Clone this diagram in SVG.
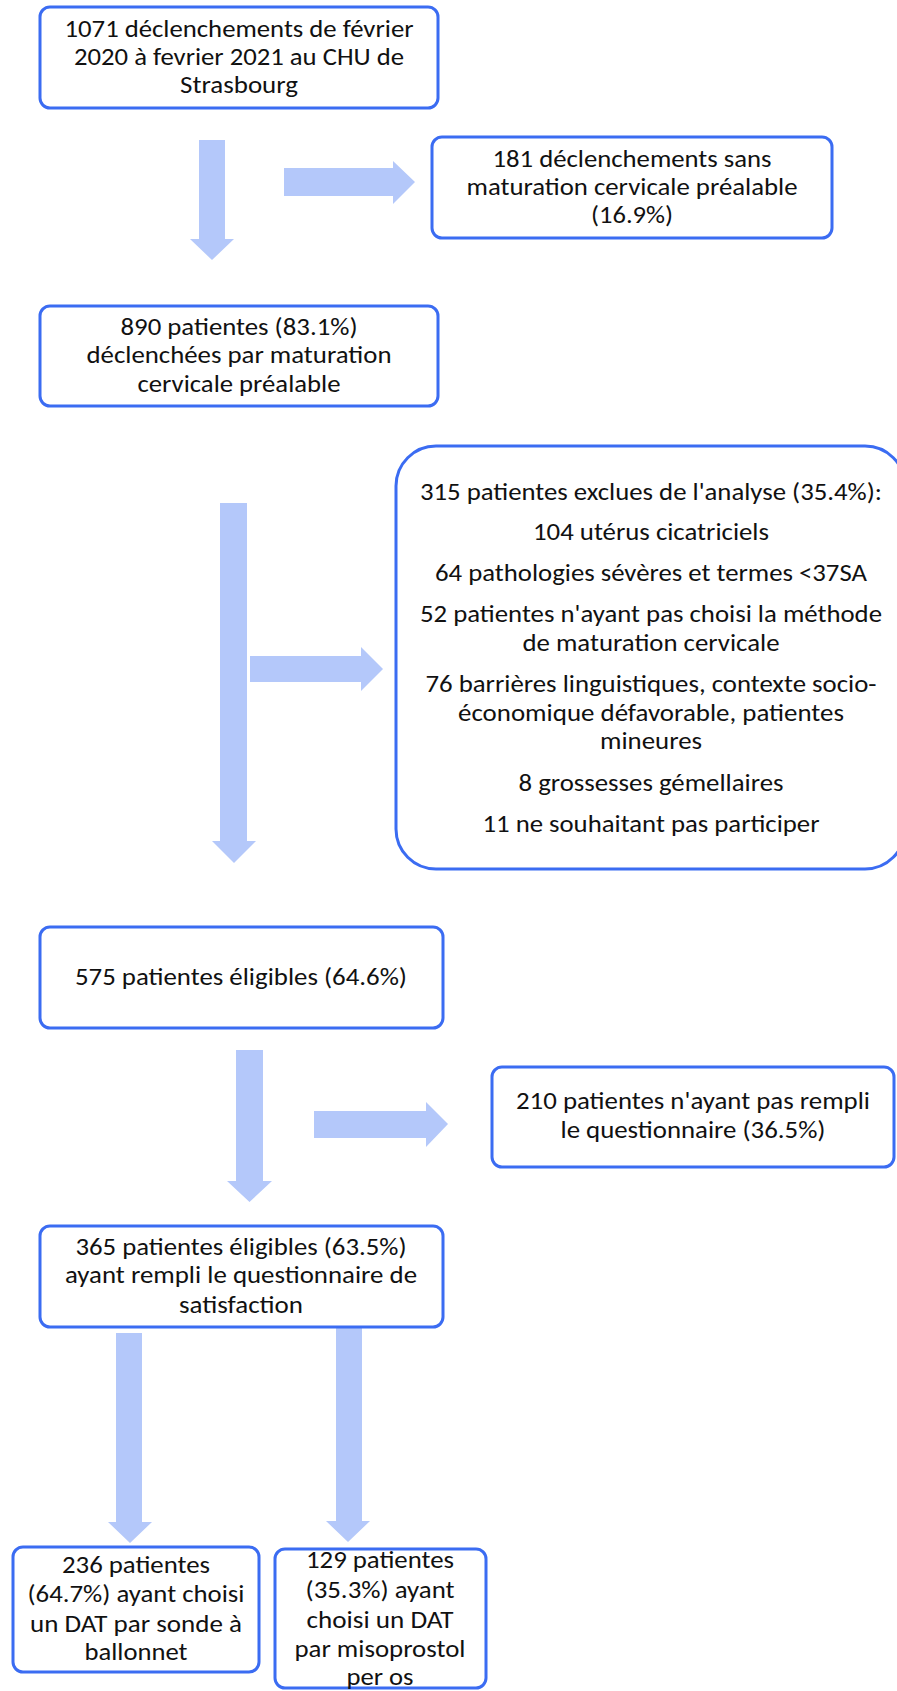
<svg xmlns="http://www.w3.org/2000/svg" width="897" height="1691" viewBox="0 0 897 1691">
<style>
.box{fill:#fff;stroke:#3B6CF2;stroke-width:3}
.arr{fill:#B4C8FA}
text{font-family:Carlito,Lato,"Open Sans",sans-serif;font-size:24px;fill:#111;text-anchor:middle}
</style>
<rect width="897" height="1691" fill="#fff"/>
<g id="connectors">
<polygon class="arr" points="199,140 225,140 225,239 234,239 212,260 190,239 199,239"/>
<polygon class="arr" points="284,168 393,168 393,161 415,182 393,204 393,196 284,196"/>
<polygon class="arr" points="220,503 247,503 247,841 256,841 234,863 212,841 220,841"/>
<polygon class="arr" points="250,656 361,656 361,647 383,669 361,691 361,682 250,682"/>
<polygon class="arr" points="236,1050 263,1050 263,1181 272,1181 249.5,1202 227,1181 236,1181"/>
<polygon class="arr" points="314,1111 426,1111 426,1102 448,1124 426,1147 426,1138 314,1138"/>
<polygon class="arr" points="116,1333 142,1333 142,1522 152,1522 130,1543 108,1522 116,1522"/>
<polygon class="arr" points="336,1327 362,1327 362,1521 370,1521 348,1542 326,1521 336,1521"/>
</g>
<g id="n1">
<rect class="box" x="40" y="7" width="398" height="101" rx="10"/>
<text x="239" y="37" textLength="349" lengthAdjust="spacingAndGlyphs">1071 déclenchements de février</text>
<text x="239" y="65" textLength="330" lengthAdjust="spacingAndGlyphs">2020 à fevrier 2021 au CHU de</text>
<text x="239" y="93" textLength="118" lengthAdjust="spacingAndGlyphs">Strasbourg</text>
</g>
<g id="n2">
<rect class="box" x="432" y="137" width="400" height="101" rx="10"/>
<text x="632" y="167" textLength="279" lengthAdjust="spacingAndGlyphs">181 déclenchements sans</text>
<text x="632" y="195" textLength="331" lengthAdjust="spacingAndGlyphs">maturation cervicale préalable</text>
<text x="632" y="223" textLength="82" lengthAdjust="spacingAndGlyphs">(16.9%)</text>
</g>
<g id="n3">
<rect class="box" x="40" y="306" width="398" height="100" rx="10"/>
<text x="239" y="335" textLength="237" lengthAdjust="spacingAndGlyphs">890 patientes (83.1%)</text>
<text x="239" y="363" textLength="305" lengthAdjust="spacingAndGlyphs">déclenchées par maturation</text>
<text x="239" y="392" textLength="203" lengthAdjust="spacingAndGlyphs">cervicale préalable</text>
</g>
<g id="n4">
<rect class="box" x="396" y="446" width="509" height="423" rx="40"/>
<text x="651" y="500" textLength="462" lengthAdjust="spacingAndGlyphs">315 patientes exclues de l'analyse (35.4%):</text>
<text x="651" y="540" textLength="236" lengthAdjust="spacingAndGlyphs">104 utérus cicatriciels</text>
<text x="651" y="581" textLength="432" lengthAdjust="spacingAndGlyphs">64 pathologies sévères et termes &lt;37SA</text>
<text x="651" y="622" textLength="462" lengthAdjust="spacingAndGlyphs">52 patientes n'ayant pas choisi la méthode</text>
<text x="651" y="651" textLength="257" lengthAdjust="spacingAndGlyphs">de maturation cervicale</text>
<text x="651" y="692" textLength="451" lengthAdjust="spacingAndGlyphs">76 barrières linguistiques, contexte socio-</text>
<text x="651" y="721" textLength="386" lengthAdjust="spacingAndGlyphs">économique défavorable, patientes</text>
<text x="651" y="749" textLength="102" lengthAdjust="spacingAndGlyphs">mineures</text>
<text x="651" y="791" textLength="265" lengthAdjust="spacingAndGlyphs">8 grossesses gémellaires</text>
<text x="651" y="832" textLength="337" lengthAdjust="spacingAndGlyphs">11 ne souhaitant pas participer</text>
</g>
<g id="n5">
<rect class="box" x="40" y="927" width="403" height="101" rx="10"/>
<text x="241" y="985" textLength="332" lengthAdjust="spacingAndGlyphs">575 patientes éligibles (64.6%)</text>
</g>
<g id="n6">
<rect class="box" x="492" y="1067" width="402" height="100" rx="10"/>
<text x="693" y="1109" textLength="354" lengthAdjust="spacingAndGlyphs">210 patientes n'ayant pas rempli</text>
<text x="693" y="1138" textLength="265" lengthAdjust="spacingAndGlyphs">le questionnaire (36.5%)</text>
</g>
<g id="n7">
<rect class="box" x="40" y="1226" width="403" height="101" rx="10"/>
<text x="241" y="1255" textLength="331" lengthAdjust="spacingAndGlyphs">365 patientes éligibles (63.5%)</text>
<text x="241" y="1283" textLength="352" lengthAdjust="spacingAndGlyphs">ayant rempli le questionnaire de</text>
<text x="241" y="1313" textLength="124" lengthAdjust="spacingAndGlyphs">satisfaction</text>
</g>
<g id="n8">
<rect class="box" x="13" y="1547" width="246" height="125" rx="10"/>
<text x="136" y="1573" textLength="148" lengthAdjust="spacingAndGlyphs">236 patientes</text>
<text x="136" y="1602" textLength="217" lengthAdjust="spacingAndGlyphs">(64.7%) ayant choisi</text>
<text x="136" y="1632" textLength="212" lengthAdjust="spacingAndGlyphs">un DAT par sonde à</text>
<text x="136" y="1660" textLength="103" lengthAdjust="spacingAndGlyphs">ballonnet</text>
</g>
<g id="n9">
<rect class="box" x="275" y="1549" width="211" height="139" rx="10"/>
<text x="380" y="1568" textLength="148" lengthAdjust="spacingAndGlyphs">129 patientes</text>
<text x="380" y="1598" textLength="149" lengthAdjust="spacingAndGlyphs">(35.3%) ayant</text>
<text x="380" y="1628" textLength="147" lengthAdjust="spacingAndGlyphs">choisi un DAT</text>
<text x="380" y="1657" textLength="171" lengthAdjust="spacingAndGlyphs">par misoprostol</text>
<text x="380" y="1685" textLength="67" lengthAdjust="spacingAndGlyphs">per os</text>
</g>
</svg>
